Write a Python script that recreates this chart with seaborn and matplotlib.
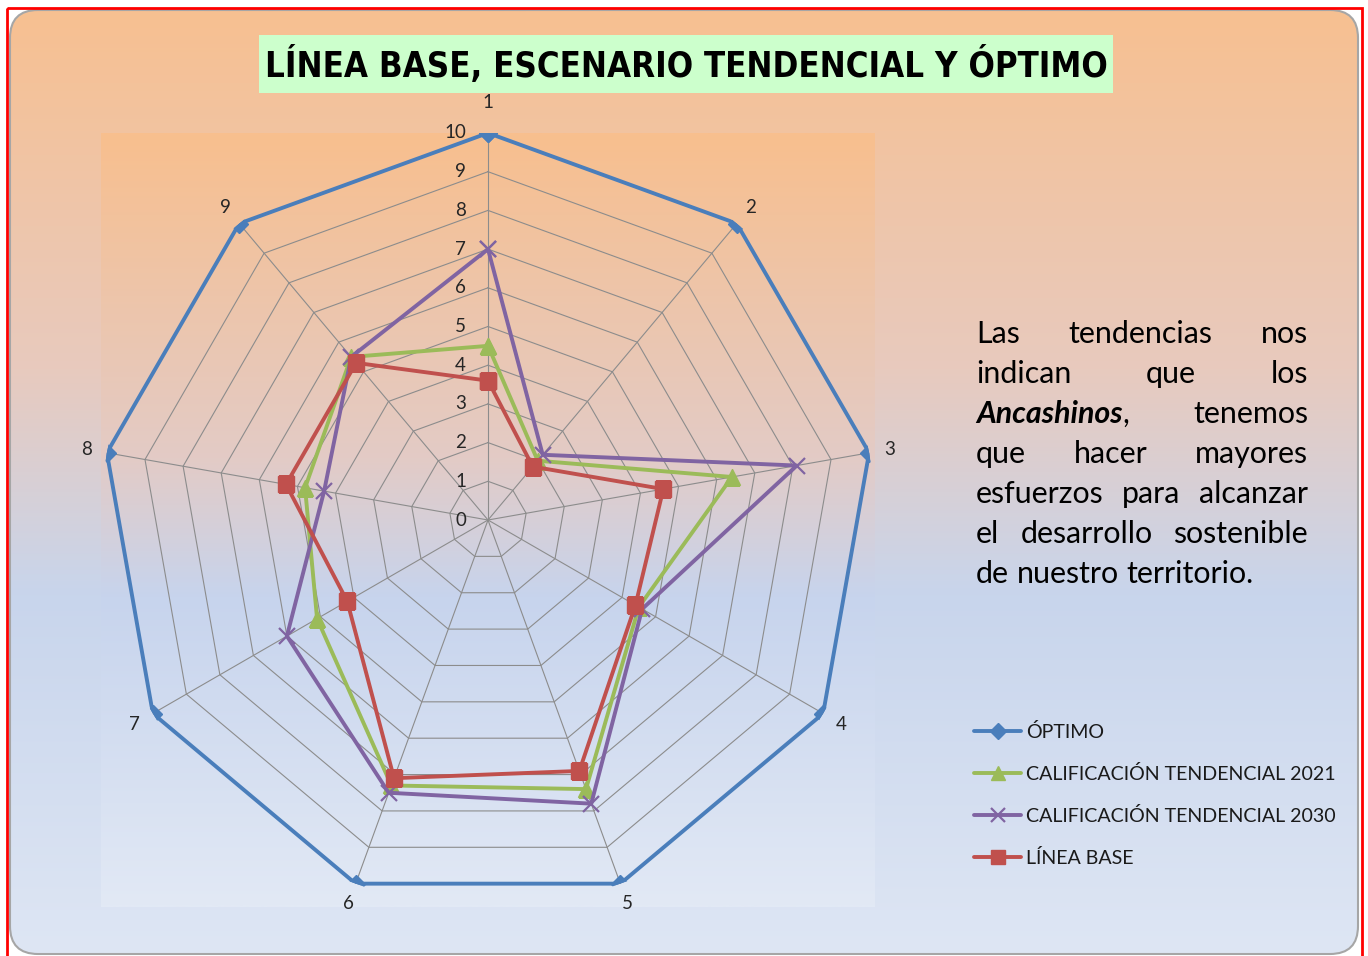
import numpy as np
import pandas as pd
import matplotlib
matplotlib.use("Agg")
import matplotlib.pyplot as plt
import matplotlib.transforms as mtransforms
from matplotlib import font_manager
from matplotlib.patches import Rectangle, FancyBboxPatch
import seaborn as sns

# ---------------- data ----------------
categories = ["1", "2", "3", "4", "5", "6", "7", "8", "9"]
optimo = [10, 10, 10, 10, 10, 10, 10, 10, 10]
tendencial_2021 = [4.5, 2.0, 6.4, 4.5, 7.4, 7.3, 5.1, 4.8, 5.5]
tendencial_2030 = [7.0, 2.2, 8.1, 4.6, 7.8, 7.5, 6.0, 4.3, 5.5]
linea_base = [3.6, 1.8, 4.6, 4.4, 6.9, 7.1, 4.2, 5.3, 5.3]
series_labels = ["ÓPTIMO", "CALIFICACIÓN TENDENCIAL 2021",
                 "CALIFICACIÓN TENDENCIAL 2030", "LÍNEA BASE"]
radial_ticks = [0, 1, 2, 3, 4, 5, 6, 7, 8, 9, 10]
title_text = "LÍNEA BASE, ESCENARIO TENDENCIAL Y ÓPTIMO"
body_lines = ["Las tendencias nos", "indican que los", "*Ancashinos*, tenemos",
              "que hacer mayores", "esfuerzos para alcanzar",
              "el desarrollo sostenible", "de nuestro territorio."]

sns.set_theme(style="white")
plt.rcParams["font.family"] = ["Lato", "DejaVu Sans"]

W, H = 1368, 956
fig = plt.figure(figsize=(W / 100, H / 100), dpi=100, facecolor="white")
renderer = fig.canvas.get_renderer()

# ---------------- background ----------------
bg = fig.add_axes([0, 0, 1, 1])
bg.axis("off")
bg.patch.set_visible(False)


def vgrad(stops, n=256):
    pos = np.array([s[0] for s in stops])
    cols = np.array([s[1] for s in stops]) / 255.0
    t = np.linspace(0, 1, n)
    arr = np.stack([np.interp(t, pos, cols[:, i]) for i in range(3)], axis=1)
    return arr[:, None, :]


chart_stops = [(0, (247, 192, 145)), (0.38, (232, 202, 190)), (0.62, (200, 213, 236)),
               (1, (222, 230, 244))]
plot_stops = [(0, (248, 191, 142)), (0.42, (227, 203, 198)), (0.6, (199, 212, 237)),
              (1, (226, 233, 245))]

im = bg.imshow(vgrad(chart_stops), extent=(10, 1358, 954, 10), aspect="auto",
               zorder=0, interpolation="bilinear")
bg.imshow(vgrad(plot_stops), extent=(101, 875, 907, 133), aspect="auto",
          zorder=1, interpolation="bilinear")
bg.set_xlim(0, W)
bg.set_ylim(H, 0)
frame = FancyBboxPatch((10, 10), 1348, 944, boxstyle="round,pad=0,rounding_size=28",
                       transform=bg.transData, facecolor="none", edgecolor="#A6A6A6",
                       lw=1.5, zorder=3)
bg.add_patch(frame)
im.set_clip_path(frame)
bg.add_patch(Rectangle((7, 8), 1355, 960, fill=False, edgecolor="red", lw=2, zorder=4))

# ---------------- title ----------------
bg.add_patch(Rectangle((259, 35), 854, 58, facecolor="#CCFFCC", edgecolor="none", zorder=2))
cond = [f.fname for f in font_manager.fontManager.ttflist
        if "condensed" in f.fname.lower() and "bold" in f.fname.lower()
        and "italic" not in f.fname.lower() and "semi" not in f.fname.lower()
        and "extra" not in f.fname.lower()]
cond.sort(key=lambda p: (0 if "Noto" in p else 1, len(p)))
if cond:
    tprops = font_manager.FontProperties(fname=cond[0], size=30)
else:
    tprops = font_manager.FontProperties(family="Lato", weight="bold", size=30)
tt = bg.text(686, 65, title_text, fontproperties=tprops, ha="center", va="center",
             color="black", zorder=3)
w0 = tt.get_window_extent(renderer).width
tprops.set_size(30 * 842 / w0)
tt.set_fontproperties(tprops)

# ---------------- radar ----------------
ax = fig.add_axes([101 / W, (H - 907) / H, 774 / W, 774 / H], projection="polar")
ax.patch.set_alpha(0)
ax.set_theta_offset(np.pi / 2)
ax.set_theta_direction(-1)

n = len(categories)
angles = np.arange(n) * 2 * np.pi / n
ring_theta = np.append(angles, 2 * np.pi)
for r in radial_ticks[1:]:
    ax.plot(ring_theta, [r] * len(ring_theta), color="#8C8C8C", lw=0.8, zorder=1)
for a in angles:
    ax.plot([a, a], [0, radial_ticks[-1]], color="#8C8C8C", lw=0.8, zorder=1)

styles = {
    "ÓPTIMO": dict(color="#4A7EBB", marker="D", ms=9, mew=1),
    "CALIFICACIÓN TENDENCIAL 2021": dict(color="#9BBB59", marker="^", ms=12, mew=1),
    "CALIFICACIÓN TENDENCIAL 2030": dict(color="#8064A2", marker="x", ms=12, mew=1.6),
    "LÍNEA BASE": dict(color="#C0504D", marker="s", ms=12, mew=1),
}
for name, vals in zip(series_labels, [optimo, tendencial_2021, tendencial_2030, linea_base]):
    df = pd.DataFrame({"theta": ring_theta, "valor": list(vals) + [vals[0]]})
    st = styles[name]
    sns.lineplot(data=df, x="theta", y="valor", sort=False, estimator=None,
                 color=st["color"], marker=st["marker"], markersize=st["ms"],
                 markeredgecolor=st["color"], markeredgewidth=st["mew"],
                 linewidth=2.8, label=name, ax=ax, zorder=3)

ax.set_ylim(0, 10)
ax.grid(False)
ax.set_xticks([])
ax.set_yticks([])
ax.set_xlabel("")
ax.set_ylabel("")
ax.spines["polar"].set_visible(False)

# radial value labels
lab_tr = mtransforms.offset_copy(ax.transData, fig=fig, x=-22, y=0, units="dots")
for r in radial_ticks:
    ax.text(0, r, str(r), transform=lab_tr, ha="right", va="center",
            fontsize=13.5, color="#262626", clip_on=False)

# category labels
for a, c in zip(angles, categories):
    off = 31 if abs(a) < 1e-9 else 21
    tr = mtransforms.offset_copy(ax.transData, fig=fig, x=off * np.sin(a),
                                 y=off * np.cos(a), units="dots")
    ax.text(a, 10, c, transform=tr, ha="center", va="center", fontsize=13.5,
            color="#262626", clip_on=False)

# legend
handles, labels = ax.get_legend_handles_labels()
if ax.get_legend() is not None:
    ax.get_legend().remove()
ax.legend(handles, labels, loc="upper left", bbox_to_anchor=(974 / W, 1 - 723 / H),
          bbox_transform=fig.transFigure, frameon=False, fontsize=14.1,
          handlelength=2.4, handletextpad=0.25, labelspacing=1.22, markerscale=0.85,
          borderaxespad=0, borderpad=0, numpoints=1)
for t in ax.get_legend().get_texts():
    t.set_color("#1a1a1a")

# ---------------- justified text block ----------------
X0, X1 = 976, 1308
base_size = 20
probe = bg.text(0, 0, body_lines[-1], fontsize=base_size)
bw = probe.get_window_extent(renderer).width
probe.remove()
body_size = base_size * 279 / bw


def segments(word):
    if word.startswith("*"):
        inner, rest = word[1:].split("*", 1)
        segs = [(inner, "bold", "italic")]
        if rest:
            segs.append((rest, "normal", "normal"))
        return segs
    return [(word, "normal", "normal")]


def seg_width(s):
    t = bg.text(0, 0, s[0], fontsize=body_size, fontweight=s[1], fontstyle=s[2])
    w = t.get_window_extent(renderer).width
    t.remove()
    return w


for i, line in enumerate(body_lines):
    y = 343 + 40 * i
    words = [segments(w) for w in line.split()]
    widths = [sum(seg_width(s) for s in segs) for segs in words]
    if i < len(body_lines) - 1 and len(words) > 1:
        gap = (X1 - X0 - sum(widths)) / (len(words) - 1)
    else:
        gap = seg_width((" ", "normal", "normal"))
    x = X0
    for segs, w in zip(words, widths):
        xx = x
        for s in segs:
            bg.text(xx, y, s[0], fontsize=body_size, fontweight=s[1], fontstyle=s[2],
                    ha="left", va="baseline", color="black", zorder=3)
            xx += seg_width(s)
        x += w + gap

fig.savefig("out.png", dpi=100, facecolor="white")
